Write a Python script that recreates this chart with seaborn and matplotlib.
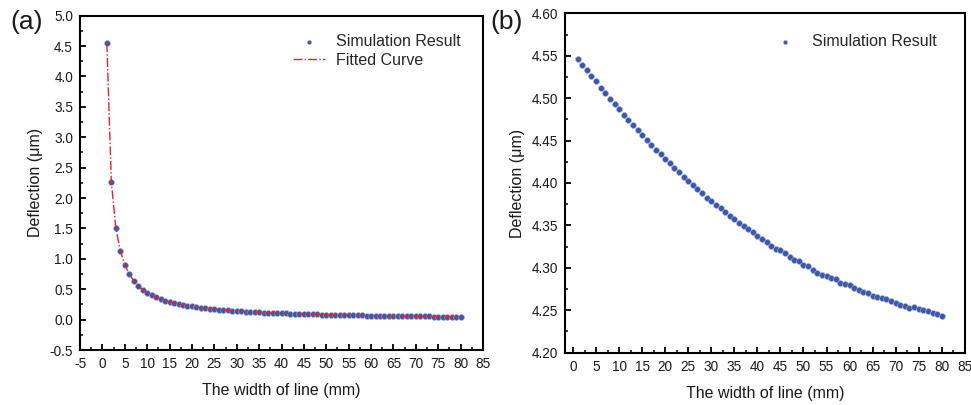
import numpy as np
import pandas as pd
import matplotlib
matplotlib.use("Agg")
import matplotlib.pyplot as plt
from matplotlib.ticker import MultipleLocator, FormatStrFormatter
import seaborn as sns

# ---------------- data ----------------
line_width_mm = np.arange(1, 81)

deflection_a = [
    4.546, 2.262, 1.506, 1.134, 0.898, 0.750, 0.637, 0.555, 0.494, 0.444,
    0.400, 0.370, 0.340, 0.313, 0.291, 0.274, 0.257, 0.242, 0.228, 0.216,
    0.206, 0.197, 0.187, 0.180, 0.171, 0.164, 0.158, 0.152, 0.147, 0.142,
    0.137, 0.132, 0.128, 0.124, 0.120, 0.116, 0.113, 0.110, 0.107, 0.104,
    0.101, 0.098, 0.096, 0.093, 0.091, 0.089, 0.087, 0.085, 0.083, 0.081,
    0.079, 0.077, 0.076, 0.074, 0.073, 0.071, 0.070, 0.068, 0.067, 0.066,
    0.065, 0.063, 0.062, 0.061, 0.060, 0.059, 0.058, 0.057, 0.056, 0.055,
    0.054, 0.053, 0.052, 0.051, 0.051, 0.050, 0.049, 0.048, 0.048, 0.047,
]
fitted_a = list(deflection_a)

deflection_b = [
    4.5457, 4.5394, 4.5332, 4.5261, 4.5202, 4.5120, 4.5057, 4.4994, 4.4928, 4.4869,
    4.4806, 4.4748, 4.4685, 4.4626, 4.4563, 4.4505, 4.4446, 4.4391, 4.4340, 4.4285,
    4.4230, 4.4175, 4.4124, 4.4069, 4.4019, 4.3972, 4.3928, 4.3883, 4.3827, 4.3783,
    4.3744, 4.3705, 4.3654, 4.3615, 4.3576, 4.3533, 4.3493, 4.3454, 4.3419, 4.3372,
    4.3345, 4.3301, 4.3262, 4.3227, 4.3207, 4.3172, 4.3133, 4.3098, 4.3078, 4.3039,
    4.3019, 4.2980, 4.2941, 4.2921, 4.2902, 4.2886, 4.2864, 4.2827, 4.2811, 4.2792,
    4.2768, 4.2737, 4.2721, 4.2702, 4.2670, 4.2659, 4.2639, 4.2627, 4.2604, 4.2588,
    4.2565, 4.2545, 4.2529, 4.2533, 4.2510, 4.2498, 4.2490, 4.2471, 4.2455, 4.2431,
]

x_label = "The width of line (mm)"
y_label = "Deflection (\u03bcm)"
sim_label = "Simulation Result"
fit_label = "Fitted Curve"

df_a = pd.DataFrame({"w": line_width_mm[:len(deflection_a)], "d": deflection_a,
                     "f": fitted_a})
df_b = pd.DataFrame({"w": line_width_mm[:len(deflection_b)], "d": deflection_b})

# ---------------- style ----------------
sns.set_style("white")
plt.rcParams["font.family"] = ["Liberation Sans", "DejaVu Sans"]
plt.rcParams["mathtext.default"] = "regular"
plt.rcParams["axes.unicode_minus"] = False

W, H = 971, 405
fig = plt.figure(figsize=(W / 100, H / 100), dpi=100)

def px_axes(l, t, r, b):
    return fig.add_axes([l / W, 1 - b / H, (r - l) / W, (b - t) / H])

ax1 = px_axes(80, 15.7, 483, 350)
ax2 = px_axes(565, 13.3, 965, 352.7)

blue = "#3D58A8"
red = "#E3242B"

# panel (a)
sns.scatterplot(data=df_a, x="w", y="d", ax=ax1, color=blue, s=18,
                edgecolor="#9FB0DA", linewidth=0.4, label=sim_label, zorder=2)
sns.lineplot(data=df_a, x="w", y="f", ax=ax1, color=red, linewidth=1.0,
             linestyle="-.", label=fit_label, zorder=3)

# panel (b)
sns.scatterplot(data=df_b, x="w", y="d", ax=ax2, color=blue, s=18,
                edgecolor="#9FB0DA", linewidth=0.4, label=sim_label, zorder=2)

ax1.set_xlim(-5, 85)
ax1.set_ylim(-0.5, 5.0)
ax1.xaxis.set_major_locator(MultipleLocator(5))
ax1.xaxis.set_minor_locator(MultipleLocator(2.5))
ax1.yaxis.set_major_locator(MultipleLocator(0.5))
ax1.yaxis.set_minor_locator(MultipleLocator(0.25))
ax1.yaxis.set_major_formatter(FormatStrFormatter("%.1f"))

ax2.set_xlim(-1.75, 85.05)
ax2.set_ylim(4.20, 4.60)
ax2.xaxis.set_major_locator(MultipleLocator(5))
ax2.xaxis.set_minor_locator(MultipleLocator(2.5))
ax2.yaxis.set_major_locator(MultipleLocator(0.05))
ax2.yaxis.set_minor_locator(MultipleLocator(0.025))
ax2.yaxis.set_major_formatter(FormatStrFormatter("%.2f"))

for ax in (ax1, ax2):
    for sp in ax.spines.values():
        sp.set_visible(True)
        sp.set_linewidth(1.5)
        sp.set_color("black")
    ax.tick_params(which="both", direction="in", top=False, right=False,
                   bottom=True, left=True, colors="black", labelcolor="#1a1a1a")
    ax.tick_params(which="major", length=4.0, width=1.3, labelsize=9.8, pad=5)
    ax.tick_params(which="minor", length=2.4, width=1.1)
    ax.set_xlabel(x_label, fontsize=11.5, labelpad=9, color="#1a1a1a")
    ax.set_ylabel(y_label, fontsize=11.5, labelpad=5, color="#1a1a1a")
    ax.grid(False)

# legends
leg1 = ax1.legend(loc="upper left", bbox_to_anchor=(293 / W, 1 - 34 / H),
                  bbox_transform=fig.transFigure, frameon=False, fontsize=11.5,
                  borderaxespad=0, borderpad=0, handlelength=2.0,
                  handletextpad=0.7, labelspacing=0.25, markerscale=0.7)
leg2 = ax2.legend(loc="upper left", bbox_to_anchor=(769 / W, 1 - 34 / H),
                  bbox_transform=fig.transFigure, frameon=False, fontsize=11.5,
                  borderaxespad=0, borderpad=0, handlelength=2.0,
                  handletextpad=0.7, labelspacing=0.25, markerscale=0.7)

# panel labels
fig.text(10 / W, 1 - 22 / H, "(a)", fontsize=19, va="center", ha="left",
         color="#1a1a1a")
fig.text(490 / W, 1 - 22 / H, "(b)", fontsize=19, va="center", ha="left",
         color="#1a1a1a")

fig.savefig("out.png", dpi=100)
